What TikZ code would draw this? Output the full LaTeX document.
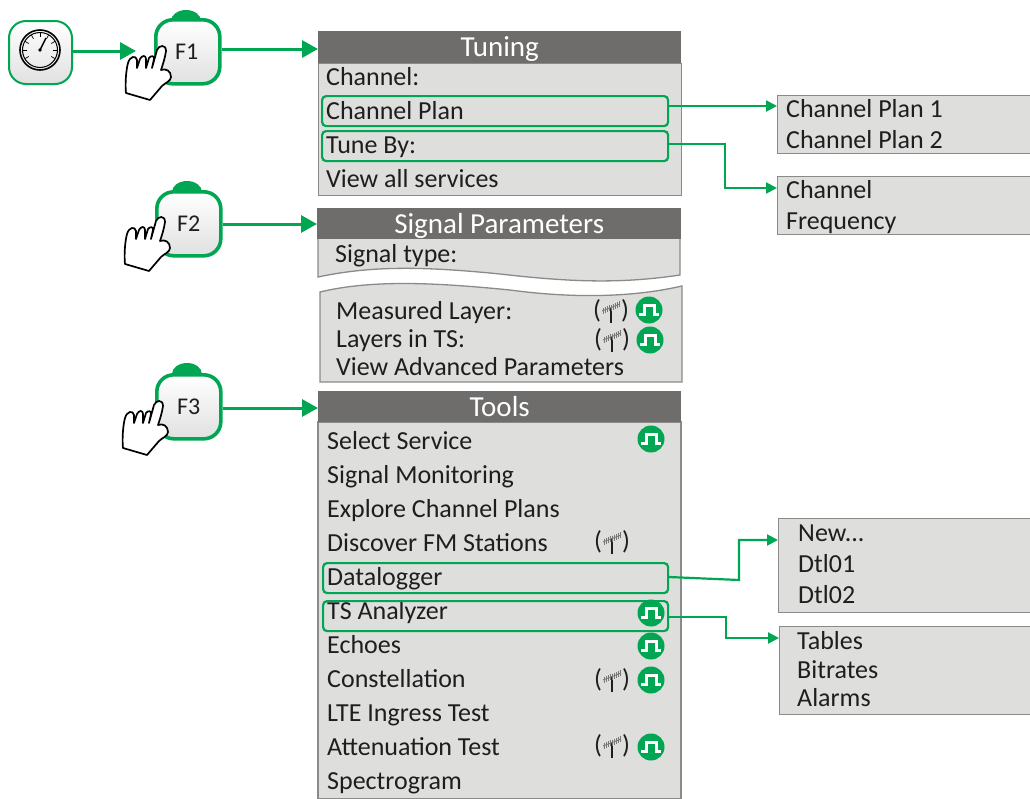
\documentclass[tikz,border=0pt]{standalone}
\usepackage{fontspec}
\setmainfont{Carlito}
\usetikzlibrary{arrows.meta,calc}
\definecolor{gr}{HTML}{00A651}
\definecolor{hd}{HTML}{6E6D6B}
\definecolor{pn}{HTML}{DEDEDD}
\definecolor{bd}{HTML}{8A8A88}
\definecolor{tx}{HTML}{1E1E1E}
\tikzset{
  x=1pt,y=-1pt,
  panel/.style={draw=bd,line width=1.3pt,fill=pn,anchor=north west,inner sep=0pt},
  head/.style={fill=hd,anchor=north west,inner sep=0pt,text=white,font=\fontsize{29}{29}\selectfont,align=center,text height=25pt,text depth=6pt},
  item/.style={anchor=base west,yshift=-8.5pt,inner sep=0pt,text=tx,font=\fontsize{26}{26}\selectfont},
  hl/.style={draw=gr,line width=2.2pt,rounded corners=4pt,anchor=north west,inner sep=0pt},
  btn/.style={draw=gr,line width=3.6pt,rounded corners=17pt,anchor=north west,inner sep=0pt,top color=white,bottom color=black!12,text=tx,font=\fontsize{24}{24}\selectfont,minimum width=64pt,minimum height=64pt},
  bigarrow/.style={draw=gr,line width=3pt,-{Triangle[length=16pt,width=17pt]}},
  smallarrow/.style={draw=gr,line width=2.2pt,-{Triangle[length=11pt,width=11pt]}},
  pics/pulse/.style={code={
    \fill[gr] (0,0) circle (13.5pt);
    \draw[white,line width=3pt,line join=miter] (-10,4.5) -- (-5,4.5) -- (-5,-5) -- (5,-5) -- (5,4.5) -- (10,4.5);
  }},
  pics/antenna/.style={code={
    \node[inner sep=0pt,text=tx,font=\fontsize{26}{26}\selectfont] at (-14,-1) {(};
    \node[inner sep=0pt,text=tx,font=\fontsize{26}{26}\selectfont] at (14,-1) {)};
    \draw[tx,line width=1.2pt] (0,-4) -- (0,11);
    \draw[tx!60,line width=.9pt] (-9,-1) -- (9,-8);
    \foreach \k in {-8,-6,-4,-2,0,2,4,6,8}{\draw[tx!60,line width=.5pt] (\k,{-4.5-\k*.39-3}) -- (\k,{-4.5-\k*.39+3});}
  }},
  pics/hand/.style={code={
    \draw[fill=white,draw=black,line width=1.7pt,line join=round]
      (157,50) .. controls (159,45) and (166,44) .. (166,51)
      .. controls (165,58) and (163,64) .. (161,70)
      .. controls (166,68) and (171,71) .. (171,77)
      .. controls (171,81) and (165,83) .. (162,86)
      -- (150,100) -- (126,93)
      .. controls (125,85) and (126,70) .. (128,63)
      .. controls (130,56) and (136,55) .. (137,60)
      -- (137,68) -- (140,59)
      .. controls (142,55) and (146,55) .. (146,59)
      -- (146,68) -- (149,58)
      .. controls (151,55) and (155,56) .. (154,59)
      -- (152,68) -- cycle;
  }},
}
\newcommand{\keycap}[2]{\fill[gr] (#1,#2) ellipse (15pt and 11pt);}
\begin{document}
\begin{tikzpicture}
\useasboundingbox (0,0) rectangle (1030,798);
% gauge button
\node[btn,line width=2pt,minimum width=63pt,minimum height=63pt] (gauge) at (8,20) {};
\draw[black,line width=1.6pt] (40,50) circle (20pt);
\draw[black,line width=1pt] (40,50) circle (17.5pt);
\foreach \a in {-30,0,30,60,90,120,150,180,210}{\draw[black,line width=.7pt] ($(40,50)+(\a:17pt)$) -- ($(40,50)+(\a:13pt)$);}
\draw[black,line width=1.5pt] (40,50) -- (46,38);
\fill[black] (40,50) circle (1.8pt);
% F buttons
\keycap{186}{21}
\keycap{187}{192}
\keycap{187}{374}
\node[btn] (f1) at (154,18) {\hspace*{-2pt}F1};
\node[btn] (f2) at (155,190) {F2};
\node[btn] (f3) at (155,373) {F3};
% Tuning
\node[panel,minimum width=363pt,minimum height=132pt] (tuningbody) at (318,63) {};
\node[head,minimum width=363pt,minimum height=32pt] (tuninghead) at (318,31) {Tuning};
\node[item] (t1) at (326,77) {Channel:};
\node[item] (t2) at (326,111) {Channel Plan};
\node[item] (t3) at (326,145) {Tune By:};
\node[item] (t4) at (326,179) {View all services};
\node[hl,minimum width=346pt,minimum height=30pt] (hlplan) at (321,95) {};
\node[hl,minimum width=346pt,minimum height=30pt] (hltune) at (321,130) {};
% submenus top
\node[panel,minimum width=258pt,minimum height=58pt] (subplan) at (777,95) {};
\node[item] (s1) at (786,109) {Channel Plan 1};
\node[item] (s2) at (786,140) {Channel Plan 2};
\node[panel,minimum width=258pt,minimum height=58pt] (subtune) at (777,176) {};
\node[item] (s3) at (786,190) {Channel};
\node[item] (s4) at (786,221) {Frequency};
% Signal parameters
\draw[draw=bd,line width=1.3pt,fill=pn] (318,239) -- (318,277) .. controls (370,266) and (420,266) .. (500,274) .. controls (570,282) and (620,284) .. (680,275) -- (680,239);
\node[head,minimum width=364pt,minimum height=31pt] (sighead) at (317,208) {Signal Parameters};
\node[item] (p1) at (335,254) {Signal type:};
\draw[draw=bd,line width=1.3pt,fill=pn] (320,382) -- (320,292) .. controls (370,280) and (430,282) .. (510,290) .. controls (570,298) and (630,298) .. (682,286) -- (682,382) -- cycle;
\node[item] (p2) at (336,311) {Measured Layer:};
\node[item] (p3) at (336,339) {Layers in TS:};
\node[item] (p4) at (336,367) {View Advanced Parameters};
\pic at (611,312) {antenna};
\pic at (612,341) {antenna};
\pic at (649,310) {pulse};
\pic at (650,340) {pulse};
% Tools
\draw[draw=bd,line width=1.3pt,fill=pn] (318,422) -- (318,799) -- (681,799) -- (681,422) -- cycle;
\node[head,minimum width=363pt,minimum height=31pt] (toolhead) at (318,391) {Tools};
\node[item] (a1) at (327,441) {Select Service};
\node[item] (a2) at (327,475) {Signal Monitoring};
\node[item] (a3) at (327,509) {Explore Channel Plans};
\node[item] (a4) at (327,543) {Discover FM Stations};
\node[item] (a5) at (327,577) {Datalogger};
\node[item] (a6) at (327,611) {TS Analyzer};
\node[item] (a7) at (327,645) {Echoes};
\node[item] (a8) at (327,679) {Constellation};
\node[item] (a9) at (327,713) {LTE Ingress Test};
\node[item] (a10) at (327,747) {Attenuation Test};
\node[item] (a11) at (327,781) {Spectrogram};
\node[hl,minimum width=345pt,minimum height=30pt] (hllog) at (322,562) {};
\node[hl,minimum width=345pt,minimum height=30pt] (hlts) at (322,600) {};
\pic at (651,439) {pulse};
\pic at (651,613) {pulse};
\pic at (651,646) {pulse};
\pic at (651,680) {pulse};
\pic at (651,747) {pulse};
\pic at (612,543) {antenna};
\pic at (612,681) {antenna};
\pic at (612,747) {antenna};
% submenus bottom
\node[panel,minimum width=257pt,minimum height=94pt] (sublog) at (778,518) {};
\node[item] (l1) at (798,533) {New...};
\node[item] (l2) at (798,564) {Dtl01};
\node[item] (l3) at (798,595) {Dtl02};
\node[panel,minimum width=256pt,minimum height=88pt] (subts) at (779,626) {};
\node[item] (m1) at (797,641) {Tables};
\node[item] (m2) at (797,670) {Bitrates};
\node[item] (m3) at (797,698) {Alarms};
% connectors
\coordinate (g1) at (136,51);
\draw[bigarrow] (gauge.east |- g1) -- (g1);
\draw[bigarrow] (f1.east |- 0,49) -- (tuninghead.west |- 0,49);
\draw[bigarrow] (f2.east |- 0,224) -- (sighead.west |- 0,224);
\draw[bigarrow] (f3.east |- 0,408) -- (toolhead.west |- 0,408);
\draw[smallarrow] (hlplan.east |- 0,106) -- (subplan.west |- 0,106);
\draw[smallarrow] (hltune.east |- 0,144) -- (725,144) -- (725,188) -- (subtune.west |- 0,188);
\draw[smallarrow] (hllog.east |- 0,577) -- (739,580) -- (739,540) -- (sublog.west |- 0,540);
\draw[smallarrow] (hlts.east |- 0,617) -- (726,617) -- (726,638) -- (subts.west |- 0,638);
% hands
\pic at (0,0) {hand};
\pic at (-1,171) {hand};
\pic at (-3,355) {hand};
\end{tikzpicture}
\end{document}
